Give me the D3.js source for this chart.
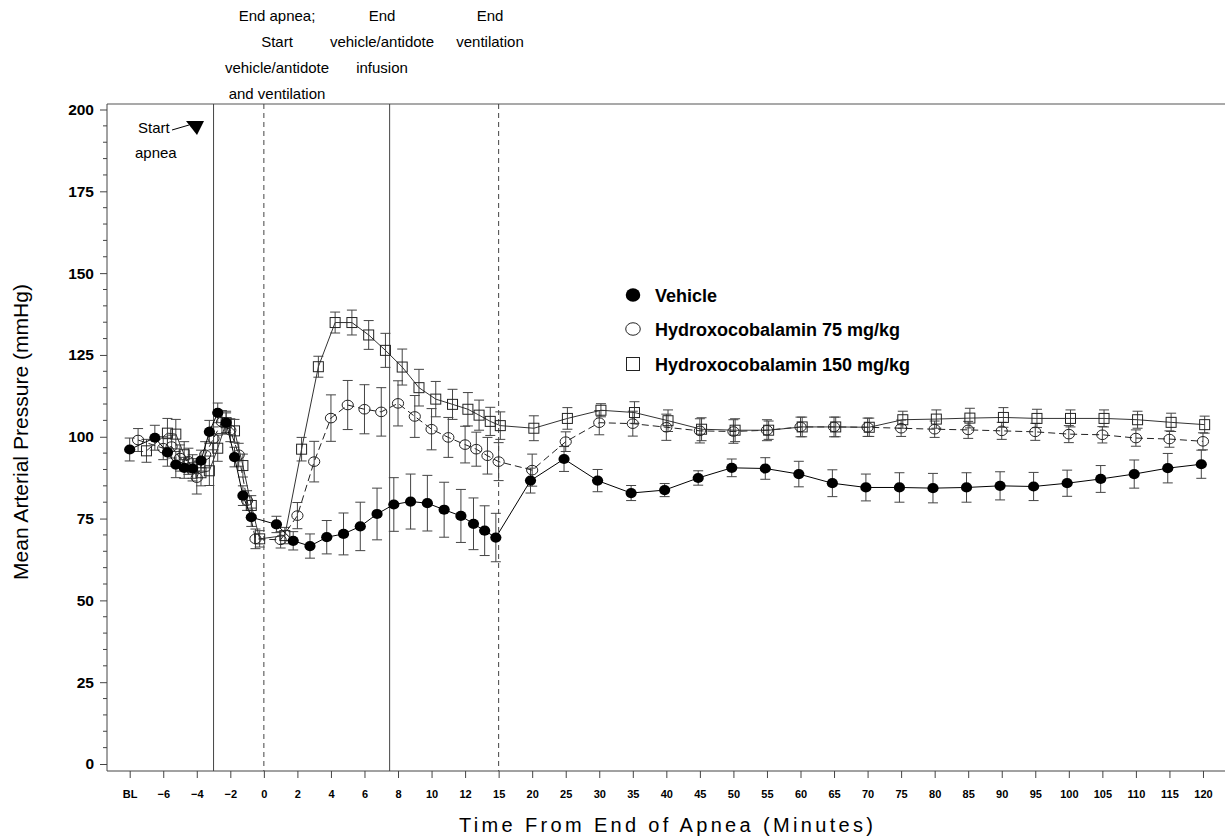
<!DOCTYPE html>
<html>
<head>
<meta charset="utf-8">
<script src="https://cdn.jsdelivr.net/npm/d3@7/dist/d3.min.js"></script>
<style>
  html, body { margin: 0; padding: 0; background: #fff; }
  svg { display: block; }
  text { font-family: "Liberation Sans", Arial, sans-serif; fill: #000; }
</style>
</head>
<body>
<svg id="chart" width="1225" height="838"></svg>
<script>
// ---- axis tick labels (minutes; BL = baseline) ----
const tickLabels = ["BL","\u22126","\u22124","\u22122","0","2","4","6","8","10","12","15",
  "20","25","30","35","40","45","50","55","60","65","70","75","80","85","90","95","100","105","110","115","120"];
const tickTimes = [-8,-6,-4,-2,0,2,4,6,8,10,12,15,
  20,25,30,35,40,45,50,55,60,65,70,75,80,85,90,95,100,105,110,115,120];
const yTicks = [0,25,50,75,100,125,150,175,200];

// ---- Vehicle ----
const vehTime = [-8,-6.5,-5.75,-5.25,-4.75,-4.25,-3.75,-3.25,-2.75,-2.25,-1.75,-1.25,-0.75,
  0.75,1.75,2.75,3.75,4.75,5.75,6.75,7.75,8.75,9.75,10.75,11.75,12.75,13.75,14.75,
  19.75,24.75,29.75,34.75,39.75,44.75,49.75,54.75,59.75,64.75,69.75,74.75,79.75,84.75,89.75,94.75,99.75,104.75,109.75,114.75,119.75];
const vehMean = [96.1,99.7,95.2,91.5,90.5,90.3,92.7,101.5,107.3,104.3,93.8,82.0,75.4,
  73.2,68.2,66.6,69.3,70.3,72.6,76.4,79.3,80.2,79.7,77.7,75.8,73.4,71.3,69.2,
  86.6,93.2,86.6,82.8,83.7,87.4,90.5,90.3,88.6,85.8,84.5,84.5,84.3,84.5,85.0,84.8,85.8,87.1,88.6,90.4,91.6];
const vehSE = [3.5,3.8,4.2,4,3.2,3,3.2,3.5,3,3,3,3,2.8,
  2.5,2.8,3.7,5.1,6.4,7.4,7.9,8.2,8.4,8.5,8.4,8.1,7.9,7.6,7.4,
  3.8,3.8,3.4,2.3,2,2.2,2.7,3.3,3.9,4.1,4.1,4.5,4.5,4.5,4.3,4.3,4,4.1,4.3,4.5,4.3];

// ---- Hydroxocobalamin 75 mg/kg ----
const loTime = [-7.5,-6,-5.5,-5,-4.5,-4,-3.5,-3,-2.5,-2,-1.5,-1,-0.5,
  1,2,3,4,5,6,7,8,9,10,11,12,13,14,15,
  20,25,30,35,40,45,50,55,60,65,70,75,80,85,90,95,100,105,110,115,120];
const loMean = [99.0,96.5,97.0,93.5,92.5,87.5,94.5,99.5,104.5,102.0,94.5,80.5,68.8,
  68.5,75.9,92.4,105.7,109.7,108.4,107.6,110.2,106.2,102.3,99.8,97.6,96.2,94.2,92.4,
  89.8,98.5,104.3,104.0,102.9,101.8,101.6,102.0,103.0,103.0,102.9,102.6,102.3,102.1,101.8,101.5,100.8,100.6,99.6,99.3,98.6];
const loSE = [3.5,3.5,3.5,4,4,5,4,3.5,3.5,3.5,3.5,3,3,
  2.5,4,6.2,7.1,7.5,7.5,7.4,6.9,6.4,6.3,6.1,5.6,5.2,5.6,5.8,
  4.9,3,3.7,3.8,4,3.7,3.6,3.2,3,3,2.8,2.5,2.5,2.6,2.6,2.6,2.6,2.5,2.5,2.5,2.6];

// ---- Hydroxocobalamin 150 mg/kg ----
const hiTime = [-7,-5.75,-5.25,-4.75,-4.25,-3.75,-3.25,-2.75,-2.25,-1.75,-1.25,-0.75,-0.25,
  1.25,2.25,3.25,4.25,5.25,6.25,7.25,8.25,9.25,10.25,11.25,12.25,13.25,14.25,15.25,
  20.25,25.25,30.25,35.25,40.25,45.25,50.25,55.25,60.25,65.25,70.25,75.25,80.25,85.25,90.25,95.25,100.25,105.25,110.25,115.25,120.25];
const hiMean = [95.7,101.1,100.8,94.5,90.5,89.0,89.6,96.5,104.3,101.8,91.2,79.0,68.8,
  69.8,96.2,121.4,134.9,134.9,131.1,126.4,121.3,115.0,111.5,109.9,108.4,106.6,104.7,103.4,
  102.6,105.6,108.1,107.4,104.9,102.3,102.0,102.0,103.0,103.0,102.9,105.2,105.4,105.7,105.9,105.6,105.6,105.6,105.2,104.4,103.7];
const hiSE = [3.5,4.5,4.5,4,4,4,4.5,4,3.5,3.5,3.5,3,2.5,
  2.5,3.6,3.2,3.2,3.8,4.4,5.2,5.5,5.6,5.4,4.6,5.1,4.6,4.3,4.2,
  3.8,3.3,2,3.3,3.3,3.5,3.5,2.8,3,3,2.8,2.6,2.8,3,3,2.8,2.6,2.6,2.6,2.8,2.6];

// ---- protocol event lines ----
const eventTimes = [-3, 0, 7.5, 15];
const eventDashed = [false, true, false, true];

const legendLabels = ["Vehicle", "Hydroxocobalamin 75 mg/kg", "Hydroxocobalamin 150 mg/kg"];

// ---------------------------------------------------------------
const svg = d3.select("#chart");
const plotL = 107, plotR = 1225, plotT = 104, plotB = 771;
const p0 = 129.7, step = 33.54;   // spacing of equally spaced tick slots

// piecewise time axis: 2-min slots up to 12, one 3-min slot, then 5-min slots
const x = d3.scaleLinear()
  .domain([-8, -6, 12, 15, 120])
  .range([p0, p0 + step, p0 + 10 * step, p0 + 11 * step, p0 + 32 * step]);
const y = d3.scaleLinear().domain([0, 200]).range([764, 109.5]);

const g = svg.append("g");

// top rule
g.append("line").attr("x1", plotL).attr("x2", plotR).attr("y1", plotT).attr("y2", plotT)
  .attr("stroke", "#555").attr("stroke-width", 1.2);

// y axis
const yAxis = d3.axisLeft(y).tickValues(yTicks).tickSize(7).tickPadding(6).tickFormat(d3.format("d"));
const yg = g.append("g").attr("transform", `translate(${plotL},0)`).call(yAxis);
yg.select(".domain").remove();
yg.append("line").attr("x1", 0).attr("x2", 0).attr("y1", plotT).attr("y2", plotB).attr("stroke", "#444");
yg.selectAll(".tick line").attr("stroke", "#444");
yg.selectAll(".tick text").attr("font-size", 15.5).attr("font-weight", "bold")
  .style("font-family", "'Liberation Sans', Arial, sans-serif").attr("fill", "#000");
// minor ticks every 5 units
const minor = d3.range(0, 201, 5).filter(v => v % 25 !== 0);
yg.selectAll(".minor").data(minor).join("line").attr("class", "minor")
  .attr("x1", -4).attr("x2", 0).attr("y1", d => y(d)).attr("y2", d => y(d)).attr("stroke", "#444");

// x axis
const xAxis = d3.axisBottom(x).tickValues(tickTimes).tickSize(7).tickPadding(12)
  .tickFormat((d, i) => tickLabels[i]);
const xg = g.append("g").attr("transform", `translate(0,${plotB})`).call(xAxis);
xg.select(".domain").remove();
xg.append("line").attr("x1", plotL).attr("x2", plotR).attr("y1", 0).attr("y2", 0).attr("stroke", "#444");
xg.selectAll(".tick line").attr("stroke", "#444");
xg.selectAll(".tick text").attr("font-size", 11).attr("font-weight", "bold")
  .style("font-family", "'Liberation Sans', Arial, sans-serif").attr("fill", "#000");

// axis titles
svg.append("text").attr("x", 666).attr("y", 832).attr("text-anchor", "middle")
  .attr("font-size", 20).attr("textLength", 414).attr("lengthAdjust", "spacing")
  .text("Time From End of Apnea (Minutes)");
svg.append("text").attr("transform", "translate(28,432) rotate(-90)").attr("text-anchor", "middle")
  .attr("font-size", 21).attr("textLength", 296).attr("lengthAdjust", "spacingAndGlyphs")
  .text("Mean Arterial Pressure (mmHg)");

// event lines
g.selectAll(".event").data(eventTimes).join("line").attr("class", "event")
  .attr("x1", d => x(d)).attr("x2", d => x(d)).attr("y1", plotT).attr("y2", plotB)
  .attr("stroke", "#444").attr("stroke-width", 1)
  .attr("stroke-dasharray", (d, i) => eventDashed[i] ? "5,4" : null);

// event annotations
function block(cx, lines, y0) {
  const t = svg.append("text").attr("text-anchor", "middle").attr("font-size", 15);
  lines.forEach((s, i) => t.append("tspan").attr("x", cx).attr("y", y0 + i * 26).text(s));
}
block(277, ["End apnea;", "Start", "vehicle/antidote", "and ventilation"], 21);
block(382, ["End", "vehicle/antidote", "infusion"], 21);
block(490, ["End", "ventilation"], 21);

svg.append("text").attr("x", 138).attr("y", 133).attr("font-size", 15).text("Start");
svg.append("text").attr("x", 135).attr("y", 158).attr("font-size", 15).text("apnea");
svg.append("line").attr("x1", 172).attr("y1", 130).attr("x2", 189).attr("y2", 125)
  .attr("stroke", "#000").attr("stroke-width", 1);
svg.append("path").attr("d", "M186,121 L204,121 L197,135 Z").attr("fill", "#000");

// ---- series ----
const series = [
  { time: vehTime, mean: vehMean, se: vehSE, dash: null, stroke: "#000", sym: "filled" },
  { time: loTime,  mean: loMean,  se: loSE,  dash: "7,4", stroke: "#222", sym: "open" },
  { time: hiTime,  mean: hiMean,  se: hiSE,  dash: null, stroke: "#333", sym: "square" }
];
series.forEach(s => {
  s.pts = s.time.map((t, i) => ({ t, m: s.mean[i], e: s.se[i] }));
});

const cap = 5;
const eg = g.append("g");
series.forEach(s => {
  const grp = eg.append("g");
  s.pts.forEach(p => {
    const cx = x(p.t), yt = y(p.m + p.e), yb = y(p.m - p.e);
    grp.append("line").attr("x1", cx).attr("x2", cx).attr("y1", yt).attr("y2", yb);
    grp.append("line").attr("x1", cx - cap).attr("x2", cx + cap).attr("y1", yt).attr("y2", yt);
    grp.append("line").attr("x1", cx - cap).attr("x2", cx + cap).attr("y1", yb).attr("y2", yb);
  });
  grp.selectAll("line").attr("stroke", "#444").attr("stroke-width", 1);
});

const line = d3.line().x(p => x(p.t)).y(p => y(p.m));
series.forEach(s => {
  g.append("path").datum(s.pts).attr("d", line).attr("fill", "none")
    .attr("stroke", s.stroke).attr("stroke-width", 1)
    .attr("stroke-dasharray", s.dash);
});

function drawSymbol(sel, sym, cx, cy, scale) {
  if (sym === "filled") {
    sel.append("ellipse").attr("cx", cx).attr("cy", cy).attr("rx", 5.6 * scale).attr("ry", 5.1 * scale)
      .attr("fill", "#000");
  } else if (sym === "open") {
    sel.append("ellipse").attr("cx", cx).attr("cy", cy).attr("rx", 5.6 * scale).attr("ry", 4.8 * scale)
      .attr("fill", "none").attr("stroke", "#222").attr("stroke-width", 1);
  } else {
    const h = 5 * scale;
    sel.append("rect").attr("x", cx - h).attr("y", cy - h).attr("width", 2 * h).attr("height", 2 * h)
      .attr("fill", "none").attr("stroke", "#222").attr("stroke-width", 1);
  }
}
const mg = g.append("g");
[series[2], series[1], series[0]].forEach(s => {
  s.pts.forEach(p => drawSymbol(mg, s.sym, x(p.t), y(p.m), 1));
});

// legend
const legY = [295, 329, 364];
const lg = svg.append("g");
series.forEach((s, i) => {
  drawSymbol(lg, s.sym, 633, legY[i], 1.3);
  lg.append("text").attr("x", 655).attr("y", legY[i] + 6.5).attr("font-size", 18)
    .attr("font-weight", "bold").text(legendLabels[i]);
});
</script>
</body>
</html>
